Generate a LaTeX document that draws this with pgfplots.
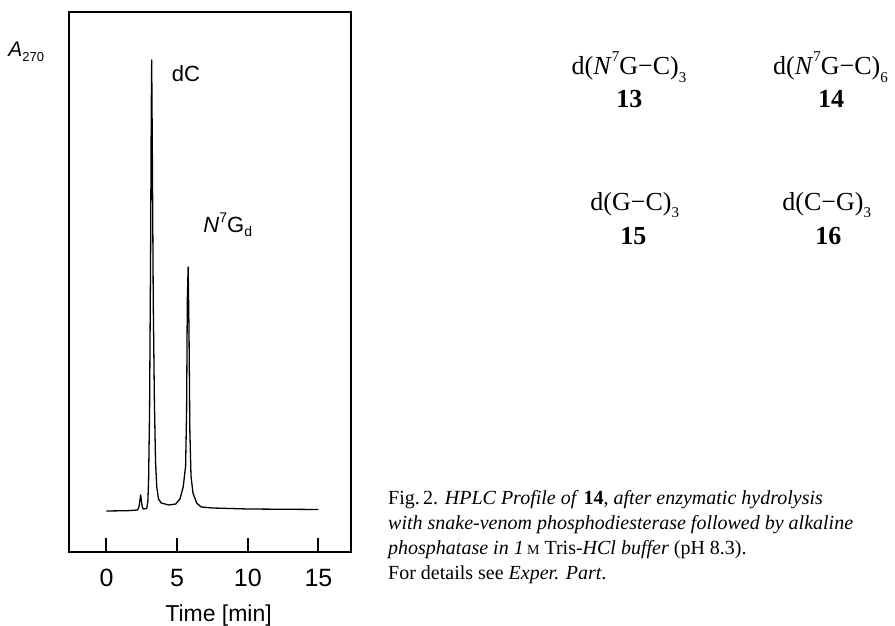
\documentclass[border=0pt]{standalone}
\usepackage{fontspec}
\setmainfont{Liberation Serif}
\setsansfont{Liberation Sans}
\usepackage{pgfplots}
\pgfplotsset{compat=1.18}
\newcommand{\sub}[1]{\raisebox{-0.28em}{\fontsize{15}{15}\selectfont #1}}
\newcommand{\sups}[1]{\raisebox{0.5em}{\fontsize{15}{15}\selectfont #1}}
\begin{document}
\begin{tikzpicture}
\useasboundingbox (0pt,0pt) rectangle (895pt,626pt);
\begin{axis}[
  at={(69pt,74pt)}, anchor=south west, scale only axis,
  width=282pt, height=540pt,
  xmin=-2.65, xmax=17.30, ymin=-41, ymax=499,
  axis line style={line width=2pt},
  xtick={0,5,10,15}, ytick=\empty, xtick pos=left, xtick align=inside,
  major tick length=14pt,
  every tick/.append style={black, line width=2pt},
  xticklabel style={font=\sffamily\fontsize{25}{25}\selectfont, anchor=base, yshift=-35pt},
  /pgf/number format/assume math mode=true,
  clip=false,
]
\addplot[black, line width=1.3pt, line join=round] coordinates {
(0,0) (1.5,0.3) (2.2,1) (2.3,4) (2.42,16) (2.52,5) (2.6,2) (2.85,2.5)
(2.93,10) (2.98,30) (3.05,100) (3.12,250) (3.17,400) (3.20,451) (3.25,350)
(3.31,211) (3.39,111) (3.47,50) (3.56,24) (3.68,12) (3.88,8) (4.4,6) (4.9,7)
(5.2,12) (5.43,24) (5.6,45) (5.67,100) (5.72,211) (5.78,244) (5.84,180)
(5.9,80) (5.98,35) (6.12,18) (6.38,8) (6.7,4) (7.5,3) (10,2) (15,1.5)
};
\node[anchor=base west, inner sep=0, font=\sffamily\fontsize{22}{22}\selectfont] at (axis cs:4.61,429.3) {dC};
\node[anchor=base west, inner sep=0, font=\sffamily\fontsize{22}{22}\selectfont] at (axis cs:6.85,278.7) {\textit{N}\raisebox{0.45em}{\fontsize{14}{14}\selectfont 7}G\raisebox{-0.2em}{\fontsize{14}{14}\selectfont d}};
\node[anchor=base west, inner sep=0, font=\sffamily\fontsize{21}{21}\selectfont] at (axis cs:-6.95,454.3) {\textit{A}\raisebox{-0.22em}{\fontsize{13}{13}\selectfont 270}};
\node[anchor=base, inner sep=0, font=\sffamily\fontsize{23}{23}\selectfont] at (axis cs:7.93,-110.7) {Time [min]};
\end{axis}
\begin{scope}[every node/.style={inner sep=0, font=\fontsize{26}{26}\selectfont}]
\node[anchor=base] at (629pt,551pt) {d(\textit{N}\sups{7}G−C)\sub{3}};
\node[anchor=base] at (629.3pt,518.7pt) {\textbf{13}};
\node[anchor=base] at (830.5pt,551pt) {d(\textit{N}\sups{7}G−C)\sub{6}};
\node[anchor=base] at (831pt,518.7pt) {\textbf{14}};
\node[anchor=base] at (634.7pt,415.3pt) {d(G−C)\sub{3}};
\node[anchor=base] at (633.3pt,381pt) {\textbf{15}};
\node[anchor=base] at (826.7pt,415.3pt) {d(C−G)\sub{3}};
\node[anchor=base] at (828.3pt,381pt) {\textbf{16}};
\end{scope}
\begin{scope}[every node/.style={inner sep=0, anchor=base west, font=\fontsize{20}{20}\selectfont}]
\node at (388pt,121pt) {Fig.\,2. \textit{HPLC Profile of} \textbf{14}, \textit{after enzymatic hydrolysis}};
\node at (388pt,96pt) {\textit{with snake-venom phosphodiesterase followed by alkaline}};
\node at (388pt,71pt) {\textit{phosphatase in 1}\,{\fontsize{14}{14}\selectfont M} Tris-\textit{HCl buffer} (pH 8.3).};
\node at (388pt,46pt) {For details see \textit{Exper. Part}.};
\end{scope}
\end{tikzpicture}
\end{document}
